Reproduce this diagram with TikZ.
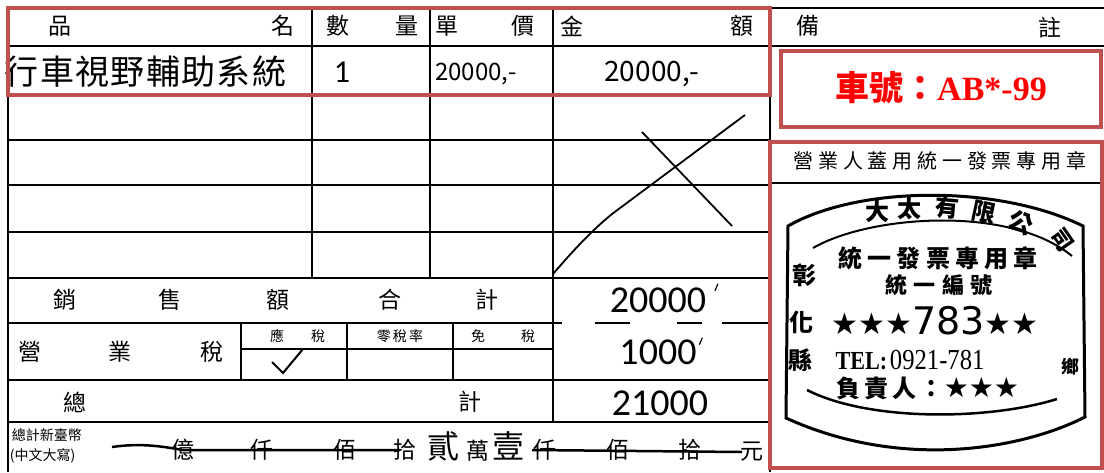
\documentclass[tikz,border=0pt]{standalone}
\usepackage{fontspec}
\newfontfamily\cjk{Noto Sans CJK TC}
\newfontfamily\num{Carlito}
\newfontfamily\tms{Liberation Serif}
\newfontfamily\sym{DejaVu Sans}
\definecolor{boxred}{RGB}{192,80,77}
\begin{document}
\begin{tikzpicture}[x=1pt, y=-1pt, line width=1.6pt,
	hd/.style={font=\cjk\fontsize{23}{23}\selectfont, inner sep=0pt},
	sm/.style={font=\cjk\fontsize{14}{14}\selectfont, inner sep=0pt},
	val/.style={font=\num\fontsize{38}{38}\selectfont, inner sep=0pt},
	hand/.style={font=\cjk\fontsize{34}{34}\selectfont\addfontfeature{LetterSpace=4}, inner sep=0pt},
	stp/.style={font=\cjk\bfseries\fontsize{24}{24}\selectfont, inner sep=0pt},
	redbox/.style={draw=boxred, line width=3.5pt}]
\useasboundingbox (0,0) rectangle (1104,472);
% form lines
\draw (8,8)--(1104,8);
\draw (8,46)--(1104,46);
\foreach \y in {95,140,185,232,278,380,422}
	\draw (8,\y)--(770,\y);
\draw (8,323)--(553,323);
\draw (553,323)--(562,323) (595,323)--(630,323) (677,323)--(702,323) (722,323)--(770,323);
\draw (8,8)--(8,472);
\foreach \x in {312,430}
	\draw (\x,8)--(\x,278);
\draw (553,8)--(553,422);
\draw (770,8)--(770,472);
\draw (241,323)--(241,380);
\draw (241,349)--(553,349);
\foreach \x in {347,453}
	\draw (\x,323)--(\x,380);
\draw (770,183)--(1104,183);
% header
\node[hd] (pin) at (60,26){品};
\node[hd] (ming) at (283,26){名};
\node[hd] (shu) at (338,26){數};
\node[hd] (liang) at (407,26){量};
\node[hd] (dan) at (447,26){單};
\node[hd] (jia) at (523,26){價};
\node[hd] (jin) at (572,26){金};
\node[hd] (e) at (742,26){額};
\node[hd] (bei) at (808,26){備};
\node[hd] (zhu) at (1050,28){註};
% item row
\node[hand, anchor=west] (item) at (4,72){行車視野輔助系統};
\node[font=\num\fontsize{32}{32}\selectfont] (qty) at (342,72){1};
\node[font=\cjk\fontsize{24}{24}\selectfont\itshape] (price) at (476,74){20000,-};
\node[font=\cjk\fontsize{28}{28}\selectfont\itshape] (amount) at (652,74){20000,-};
\draw[line width=1.8pt] (553,274) .. controls (572,252) and (590,232) .. (612,214) -- (745,115);
\draw[line width=1.8pt] (642,132)--(732,226);
% totals
\node[hd] (xiao) at (65,300){銷};
\node[hd] (shou) at (170,300){售};
\node[hd] (e2) at (278,300){額};
\node[hd] (he) at (390,300){合};
\node[hd] (ji) at (487,300){計};
\node[hd] (ying) at (30,352){營};
\node[hd] (ye) at (120,352){業};
\node[hd] (shui) at (212,352){稅};
\node[sm] (ys1) at (277,336){應};
\node[sm] (ys2) at (318,336){稅};
\node[sm, font=\cjk\fontsize{14}{14}\selectfont\addfontfeature{LetterSpace=15}] (lsl) at (400,336){零稅率};
\node[sm] (ms1) at (478,336){免};
\node[sm] (ms2) at (528,336){稅};
\draw[line width=2pt] (272,362)--(283,373)--(303,349);
\node[hd] (zong) at (75,402){總};
\node[hd] (ji2) at (470,402){計};
\node[val] (sum) at (658,300){20000};
\node[val] (tax) at (658,352){1000};
\node[val] (total) at (660,403){21000};
\draw[line width=1.2pt] (sum.north east)++(8,4)--++(3,-7);
\draw[line width=1.2pt] (tax.north east)++(2,6)--++(3,-7);
% amount in words
\node[sm, anchor=west] (ntd) at (11,435){總計新臺幣};
\node[sm, anchor=west] (cap) at (9,456){(中文大寫)};
\draw[line width=2.5pt] (112,447) .. controls (140,443) and (160,446) .. (183,450) -- (400,450);
\draw[line width=2.5pt] (532,450)--(742,452);
\node[hd] (yi) at (183,450){億};
\node[hd] (qian) at (262,450){仟};
\node[hd] (bai) at (345,450){佰};
\node[hd] (shi) at (405,450){拾};
\node[font=\cjk\fontsize{32}{32}\selectfont, inner sep=0pt] (er) at (443,446){貳};
\node[hd] (wan) at (478,451){萬};
\node[font=\cjk\fontsize{32}{32}\selectfont, inner sep=0pt] (yi2) at (508,446){壹};
\node[hd] (qian2) at (545,450){仟};
\node[hd] (bai2) at (618,450){佰};
\node[hd] (shi2) at (690,450){拾};
\node[hd] (yuan) at (752,452){元};
% remarks
\draw[redbox] (781,51) rectangle (1101,127);
\node[text=red, font=\cjk\bfseries\fontsize{34}{34}\selectfont, inner sep=0pt] (plate) at (941,88){車號：{\tms\bfseries AB*-99}};
\draw[redbox] (8,8) rectangle (770,95);
\draw[redbox] (770,142) rectangle (1102,468);
\node[hd, font=\cjk\fontsize{20}{20}\selectfont\addfontfeature{LetterSpace=24}] (gai) at (940,161){營業人蓋用統一發票專用章};
% stamp
\draw[line width=3pt] (788,226) .. controls (860,185) and (1000,185) .. (1083,226)
	-- (1085,417) .. controls (1020,450) and (900,470) .. (786,418) -- cycle;
\draw[line width=2pt] (813,248) .. controls (870,215) and (1010,205) .. (1072,256);
\draw[line width=2.5pt] (807,390) .. controls (870,422) and (990,420) .. (1057,399);
\node[stp] (tai1) at (877,211){大};
\node[stp] (tai2) at (909,208){太};
\node[stp, rotate=-5] (you) at (947,208){有};
\node[stp, rotate=-12] (xian) at (984,213){限};
\node[stp, rotate=-22] (gong) at (1021,223){公};
\node[stp, font=\cjk\bfseries\fontsize{22}{22}\selectfont, rotate=-55] (si) at (1062,240){司};
\node[stp, font=\cjk\bfseries\fontsize{24}{24}\selectfont\addfontfeature{LetterSpace=22}] (tyfp) at (938,258){統一發票專用章};
\node[stp, font=\cjk\bfseries\fontsize{22}{22}\selectfont\addfontfeature{LetterSpace=28}] (tybh) at (939,285){統一編號};
\node[stp] (zhang) at (804,275){彰};
\node[stp] (hua) at (801,322){化};
\node[stp] (xianc) at (800,360){縣};
\node[stp, font=\cjk\bfseries\fontsize{18}{18}\selectfont] (xiang) at (1070,367){鄉};
\node[inner sep=0pt] (tongbian) at (935,321){{\sym\fontsize{30}{30}\selectfont ★★★}{\sym\fontsize{38}{38}\selectfont 783}{\sym\fontsize{30}{30}\selectfont ★★}};
\node[inner sep=0pt, xscale=0.85] (tel) at (910,360){{\tms\bfseries\fontsize{26}{26}\selectfont TEL:} {\tms\fontsize{29}{29}\selectfont 0921-781}};
\node[inner sep=0pt] (fzr) at (928,388){{\cjk\bfseries\fontsize{24}{24}\selectfont\addfontfeature{LetterSpace=15} 負責人：}{\sym\fontsize{28}{28}\selectfont ★★★}};
\end{tikzpicture}
\end{document}
